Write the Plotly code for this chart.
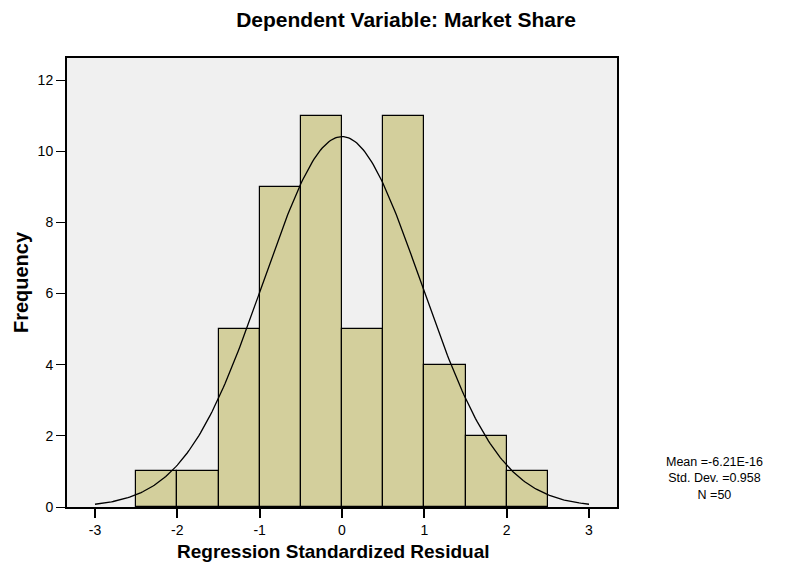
import numpy as np
import plotly.graph_objects as go

# Histogram bins (left edges, width 0.5) and counts
bin_edges = [-2.5, -2.0, -1.5, -1.0, -0.5, 0.0, 0.5, 1.0, 1.5, 2.0]
bin_width = 0.5
counts = [1, 1, 5, 9, 11, 5, 11, 4, 2, 1]

# Stats printed in the chart
mean = -6.21e-16
std_dev = 0.958
n_obs = 50

x_ticks = [-3, -2, -1, 0, 1, 2, 3]
y_ticks = [0, 2, 4, 6, 8, 10, 12]

stat_lines = ["Mean =-6.21E-16", "Std. Dev. =0.958", "N =50"]

FONT = "Liberation Sans, Arial, sans-serif"

centers = [e + bin_width / 2 for e in bin_edges]

# Normal curve from the printed mean / std dev, scaled to counts
curve_x = np.linspace(-3, 3, 301)
curve_y = n_obs * bin_width / (std_dev * np.sqrt(2 * np.pi)) * np.exp(-0.5 * ((curve_x - mean) / std_dev) ** 2)

fig = go.Figure()

fig.add_trace(go.Bar(
    x=centers,
    y=counts,
    width=bin_width,
    marker=dict(color="#d3cf9c", line=dict(color="black", width=1.2)),
    hoverinfo="x+y",
))

fig.add_trace(go.Scatter(
    x=curve_x,
    y=curve_y,
    mode="lines",
    line=dict(color="black", width=1.3),
    hoverinfo="skip",
))

# page body adds an 8px offset, margins are set to compensate
fig.update_layout(
    width=785,
    height=574,
    showlegend=False,
    paper_bgcolor="white",
    plot_bgcolor="#f0f0f0",
    margin=dict(l=54, r=176, t=50, b=75),
    font=dict(family=FONT, size=14, color="black"),
    title=dict(
        text="<b>Dependent Variable: Market Share</b>",
        x=398 / 785, xanchor="center", y=1 - 12 / 574, yanchor="middle",
        font=dict(size=21),
    ),
    bargap=0,
)

fig.update_xaxes(
    range=[-3.34, 3.34],
    tickvals=x_ticks,
    ticktext=[str(t) for t in x_ticks],
    ticks="outside", ticklen=9, tickwidth=1.5, tickcolor="black",
    showgrid=False, zeroline=False,
    showline=True, linecolor="black", linewidth=2, mirror=True,
    tickfont=dict(size=14),
)

fig.update_yaxes(
    range=[0, 12.62],
    tickvals=y_ticks,
    ticks="outside", ticklen=9, tickwidth=1.2, tickcolor="black",
    showgrid=False, zeroline=False,
    showline=True, linecolor="black", linewidth=2, mirror=True,
    tickfont=dict(size=14),
    title=dict(text="<b>Frequency</b>", font=dict(size=20), standoff=4),
)

# x title sits a little left of the plot centre in the original
fig.add_annotation(
    xref="paper", yref="paper",
    x=0.485, y=-0.098,
    xanchor="center", yanchor="middle",
    text="<b>Regression Standardized Residual</b>",
    showarrow=False,
    font=dict(size=19),
)

fig.add_annotation(
    xref="paper", yref="paper",
    x=1.178, y=(499 - 470) / 449,
    xanchor="center", yanchor="middle",
    text="<br>".join(stat_lines),
    showarrow=False, align="center",
    font=dict(size=12.5),
)

fig.write_html("out.html")
